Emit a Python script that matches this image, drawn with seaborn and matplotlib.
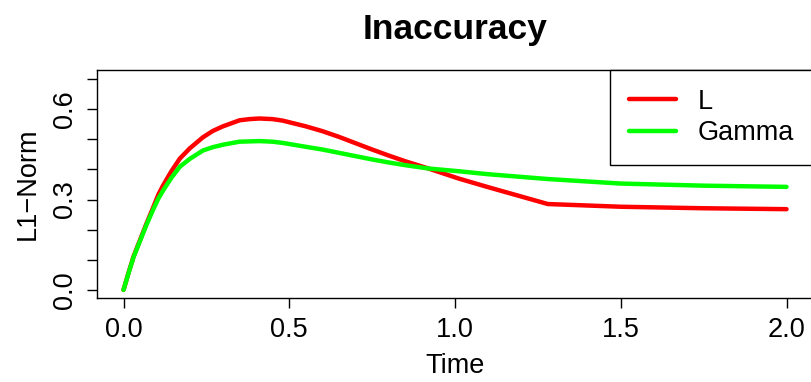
import matplotlib
matplotlib.use("Agg")
import matplotlib.pyplot as plt
import seaborn as sns
import pandas as pd

# values
time = [0.0, 0.015, 0.03, 0.05, 0.07, 0.09, 0.105, 0.12, 0.145, 0.17, 0.20, 0.24, 0.27,
        0.30, 0.35, 0.38, 0.41, 0.45, 0.48, 0.55, 0.60, 0.65, 0.70, 0.75, 0.80,
        0.85, 0.92, 1.01, 1.10, 1.28, 1.50, 1.75, 2.00]
l_norm_L = [0.0, 0.056, 0.110, 0.166, 0.222, 0.275, 0.316, 0.348, 0.395, 0.436, 0.470, 0.507, 0.528,
            0.543, 0.563, 0.567, 0.569, 0.567, 0.562, 0.543, 0.527, 0.508, 0.487, 0.466, 0.446,
            0.427, 0.403, 0.370, 0.341, 0.285, 0.276, 0.271, 0.268]
l_norm_gamma = [0.0, 0.055, 0.108, 0.163, 0.218, 0.268, 0.303, 0.331, 0.373, 0.409, 0.435, 0.463, 0.474,
                0.482, 0.492, 0.493, 0.494, 0.492, 0.488, 0.475, 0.466, 0.455, 0.444, 0.433, 0.423,
                0.414, 0.403, 0.394, 0.384, 0.368, 0.353, 0.346, 0.342]
series_names = ["L", "Gamma"]
x_ticks = [0.0, 0.5, 1.0, 1.5, 2.0]
y_ticks = [0.0, 0.1, 0.2, 0.3, 0.4, 0.5, 0.6, 0.7]
y_labels = ["0.0", "", "", "0.3", "", "", "0.6", ""]

df = pd.DataFrame({
    "Time": time * 2,
    "L1-Norm": l_norm_L + l_norm_gamma,
    "method": [series_names[0]] * len(time) + [series_names[1]] * len(time),
})

sns.set_style("ticks")
plt.rcParams["font.family"] = ["Liberation Sans", "DejaVu Sans"]
plt.rcParams["text.color"] = "black"
plt.rcParams["axes.labelcolor"] = "black"
plt.rcParams["xtick.color"] = "black"
plt.rcParams["ytick.color"] = "black"

fig = plt.figure(figsize=(8.11, 3.82), dpi=100)
ax = fig.add_axes([0.1196, 0.2199, 0.8829, 0.5968])

sns.lineplot(data=df, x="Time", y="L1-Norm", hue="method",
             palette={"L": "#FF0000", "Gamma": "#00FF00"},
             linewidth=3.2, ax=ax, sort=True)

ax.set_xlim(-0.08, 2.08)
ax.set_ylim(-0.027, 0.73)
ax.set_xticks(x_ticks)
ax.set_xticklabels([f"{v:.1f}" for v in x_ticks])
ax.set_yticks(y_ticks)
ax.set_yticklabels(y_labels, rotation=90, va="center")
ax.tick_params(axis="both", labelsize=19.5, length=7, width=1, colors="black", pad=7)

for s in ax.spines.values():
    s.set_color("black")
    s.set_linewidth(1)

ax.set_title("Inaccuracy", fontsize=25.5, fontweight="bold", pad=22, color="black")
ax.set_xlabel("Time", fontsize=19.5, labelpad=7)
ax.set_ylabel("L1\u2212Norm", fontsize=19.5, labelpad=8)

leg = ax.legend(loc="upper right", bbox_to_anchor=(1.0, 1.0), borderaxespad=0,
                fancybox=False, edgecolor="black", framealpha=1, fontsize=19.5,
                handlelength=1.75, handletextpad=0.8, labelspacing=0.2, borderpad=0.7)
leg.get_frame().set_linewidth(1)
for h in leg.get_lines():
    h.set_linewidth(3.2)

fig.savefig("out.png", dpi=100)
